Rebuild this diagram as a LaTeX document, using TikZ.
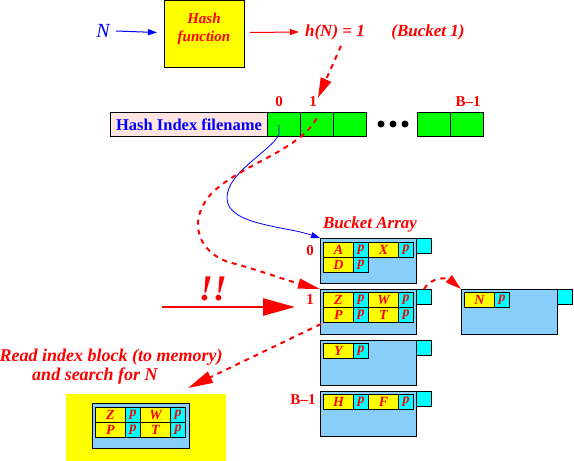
\documentclass[tikz,border=0pt]{standalone}
\usepackage{fontspec}
\setmainfont{Liberation Serif}
\usetikzlibrary{arrows.meta}
\definecolor{bktblue}{RGB}{135,206,250}
\definecolor{pinkbg}{RGB}{255,228,225}
\definecolor{grn}{RGB}{0,255,0}
\definecolor{cyn}{RGB}{0,255,255}
\definecolor{yel}{RGB}{255,255,0}
\definecolor{rd}{RGB}{255,0,0}
\definecolor{bl}{RGB}{0,0,255}
\newcommand\fsz[1]{\fontsize{#1}{#1}\selectfont}
\newcommand\recpair[4]{%
  \node[cellY] (#4y) at (#1,#2) {#3};
  \node[cellC] (#4p) at (#1+30,#2) {p};}
\begin{document}
\begin{tikzpicture}[x=1pt,y=-1pt,
  bx/.style={draw,line width=1pt,inner sep=0pt,anchor=north west},
  cellY/.style={bx,fill=yel,minimum width=30pt,minimum height=15pt,text=rd,font=\bfseries\itshape\fsz{14}},
  cellC/.style={bx,fill=cyn,minimum width=15pt,minimum height=15pt,text=rd,font=\bfseries\itshape\fsz{14}},
  bucket/.style={bx,fill=bktblue,minimum width=96pt,minimum height=45pt},
  tab/.style={bx,fill=cyn,minimum width=15pt,minimum height=15pt},
  gcell/.style={bx,fill=grn,minimum width=33pt,minimum height=24pt},
  rtxt/.style={text=rd,font=\bfseries\itshape\fsz{17},inner sep=0pt},
  lbl/.style={text=rd,font=\bfseries\fsz{15},inner sep=0pt},
  rdash/.style={rd,line width=2pt,dash pattern=on 5pt off 5pt},
  dot/.style={circle,fill=black,minimum size=7pt,inner sep=0pt}
]
\useasboundingbox (0,0) rectangle (574,461);

% top row
\node[text=bl,font=\itshape\fsz{20},inner sep=0pt] (N) at (103,31) {N};
\node[bx,fill=yel,minimum width=80pt,minimum height=67pt] (hf) at (164,0) {};
\node[rtxt,font=\bfseries\itshape\fsz{15},align=center] (hft) at (204,29) {Hash\\[3pt]function};
\node[rtxt] (hN) at (335,32) {h(N) = 1};
\node[rtxt] (bk1) at (428,32) {(Bucket 1)};
\draw[bl,line width=1pt,-{Triangle[length=9pt,width=6pt]}] ([xshift=6pt]N.east) -- ([xshift=-7pt,yshift=1.5pt]hf.west);
\draw[rd,line width=1pt,-{Triangle[length=9pt,width=6pt]}] ([xshift=5pt,yshift=1.5pt]hf.east) -- ([xshift=-6pt]hN.west);

% hash index
\node[bx,fill=pinkbg,minimum width=157pt,minimum height=24pt,text=bl,font=\bfseries\fsz{16.5}] (hif) at (110,112) {Hash Index filename};
\node[gcell] (g0) at (267,112) {};
\node[gcell] (g1) at (300,112) {};
\node[gcell] (g2) at (333,112) {};
\node[gcell] (g3) at (417,112) {};
\node[gcell] (g4) at (450,112) {};
\node[dot] (d1) at (381,124) {};
\node[dot] (d2) at (393,124) {};
\node[dot] (d3) at (405,124) {};
\node[lbl] (l0) at (279,102) {0};
\node[lbl] (l1) at (313,102) {1};
\node[lbl] (lB) at (468,102) {B–1};

\draw[rdash,-{Triangle[length=20pt,width=11pt]}] ([xshift=6pt,yshift=-6pt]hN.south) -- ([xshift=1pt,yshift=-1pt]l1.north east);

% buckets
\node[rtxt] (ba) at (370,224) {Bucket Array};
\node[bucket] (b0) at (320,238) {};
\node[tab] (b0t) at (416,238) {};
\recpair{323}{242}{A}{b0a}
\recpair{368}{242}{X}{b0x}
\recpair{323}{257}{D}{b0d}
\node[lbl] (lb0) at (310,251) {0};

\node[bucket] (b1) at (320,289) {};
\node[tab] (b1t) at (416,289) {};
\recpair{323}{292}{Z}{b1z}
\recpair{368}{292}{W}{b1w}
\recpair{323}{307}{P}{b1p}
\recpair{368}{307}{T}{b1t2}
\node[lbl] (lb1) at (310,300) {1};

\node[bucket] (b2) at (320,340) {};
\node[tab] (b2t) at (416,340) {};
\recpair{323}{343}{Y}{b2y}

\node[bucket] (bB) at (320,391) {};
\node[tab] (bBt) at (416,391) {};
\recpair{323}{394}{H}{bBh}
\recpair{368}{394}{F}{bBf}
\node[lbl] (lbB) at (303,400) {B–1};

\node[bucket] (ov) at (461,289) {};
\node[tab] (ovt) at (557,289) {};
\recpair{464}{292}{N}{ovn}

% memory block
\node[bx,draw=none,fill=yel,minimum width=160pt,minimum height=68pt] (mem) at (65,393) {};
\node[bx,fill=bktblue,minimum width=97pt,minimum height=45pt] (memb) at (92,403) {};
\recpair{95}{407}{Z}{mz}
\recpair{140}{407}{W}{mw}
\recpair{95}{422}{P}{mp}
\recpair{140}{422}{T}{mt}

\node[rtxt,font=\bfseries\itshape\fsz{18}] (rd1) at (111,357) {Read index block (to memory)};
\node[rtxt,font=\bfseries\itshape\fsz{18}] (rd2) at (95,376) {and search for N};

% connectors
\draw[bl,line width=0.8pt,-{Triangle[length=9pt,width=6pt]}] ([xshift=-5pt]g0.center) -- ++(0,10) .. controls (270,152) and (227,172) .. (227,198) .. controls (227,225) and (285,226) .. (b0.north west);
\draw[rdash,-{Triangle[length=22pt,width=10pt]}] ([xshift=-0.5pt,yshift=6pt]g1.center) .. controls (300,150) and (240,165) .. (212,193) .. controls (185,222) and (200,255) .. (232,263) .. controls (262,271) and (285,280) .. (b1.north west);
\draw[rdash,-{Triangle[length=16pt,width=9pt]}] (b1t.north) .. controls (432,276) and (448,278) .. (ov.north west);
\coordinate (readtip) at (188,388);
\draw[rdash,-{Triangle[length=25pt,width=12pt]}] ([xshift=1pt,yshift=11pt]b1.south west) -- (readtip);
\coordinate (bigstart) at (162,307);
\coordinate (bigtip) at (295,307);
\draw[rd,line width=2.5pt,-{Triangle[length=32pt,width=17pt]}] (bigstart) -- (bigtip);
\node[text=rd,font=\bfseries\itshape\fsz{36},inner sep=0pt] (ex) at (213,289) {!!};
\end{tikzpicture}
\end{document}
